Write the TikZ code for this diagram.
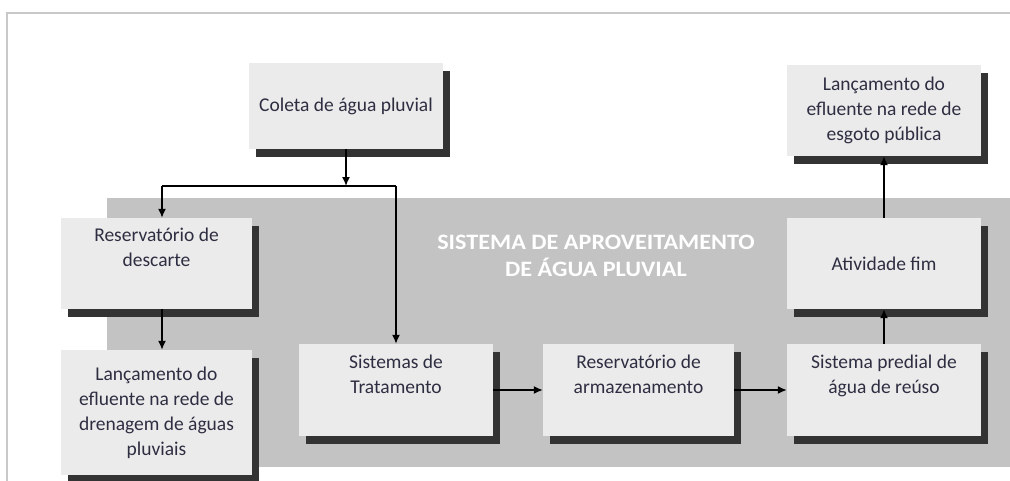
\documentclass[tikz,border=0pt]{standalone}
\usepackage{fontspec}
\setmainfont{Carlito}
\usetikzlibrary{arrows.meta,shadows}
\definecolor{boxfill}{HTML}{EBEBEB}
\definecolor{regionfill}{HTML}{C3C3C3}
\definecolor{shadowc}{HTML}{333333}
\definecolor{txtc}{HTML}{2E2E42}
\definecolor{framec}{HTML}{C8C8C8}
\tikzset{
  box/.style={rectangle, fill=boxfill, inner sep=0pt, align=center, text=txtc,
    font=\fontsize{19.5}{25}\selectfont,
    drop shadow={shadow xshift=6.5pt, shadow yshift=-7.5pt, fill=shadowc, opacity=1}},
  conn/.style={line width=1.5pt, black},
  arr/.style={conn, -{Latex[length=9pt,width=8pt]}}
}
\begin{document}
\begin{tikzpicture}[x=1pt,y=-1pt]
\useasboundingbox (0,0) rectangle (1010,480);
% outer frame
\draw[framec, line width=1.5pt] (7,490) -- (7,13) -- (1020,13);
% grey region
\fill[regionfill] (107,198) rectangle (1010,467);
\node[text=white, font=\bfseries\fontsize{22}{27}\selectfont, align=center, xscale=1.1] (title) at (596,256)
  {SISTEMA DE APROVEITAMENTO\\DE ÁGUA PLUVIAL};
% boxes
\node[box, minimum width=194pt, minimum height=86pt] (coleta) at (346,106) {Coleta de água pluvial};
\node[box, minimum width=191pt, minimum height=91pt] (descarte) at (156.5,263.5) {Reservatório de\\descarte\\\strut};
\node[box, minimum width=191pt, minimum height=125pt] (drenagem) at (156.5,412.5) {Lançamento do\\efluente na rede de\\drenagem de águas\\pluviais};
\node[box, minimum width=194pt, minimum height=92pt] (trat) at (396,390) {Sistemas de\\Tratamento\\\strut};
\node[box, minimum width=191pt, minimum height=92pt] (armaz) at (638.5,390) {Reservatório de\\armazenamento\\\strut};
\node[box, minimum width=194pt, minimum height=92pt] (predial) at (884,390) {Sistema predial de\\água de reúso\\\strut};
\node[box, minimum width=194pt, minimum height=91pt] (ativ) at (884,263.5) {Atividade fim};
\node[box, minimum width=194pt, minimum height=91pt] (esgoto) at (884,110.5) {Lançamento do\\efluente na rede de\\esgoto pública};
% junction coordinates
\coordinate (j) at (346,186);
\coordinate (jl) at (162,186);
\coordinate (jr) at (396,186);
% connectors
\draw[arr] (coleta.south) -- (j);
\draw[conn] (jl) -- (jr);
\draw[arr] (jl) -- (jl |- descarte.north);
\draw[arr] (jr) -- (trat.north);
\draw[arr] (descarte.south -| jl) -- (drenagem.north -| jl);
\draw[arr] (trat.east) -- (armaz.west);
\draw[arr] (armaz.east) -- (predial.west);
\draw[arr] (predial.north) -- (ativ.south);
\draw[arr] (ativ.north) -- (esgoto.south);
\end{tikzpicture}
\end{document}
